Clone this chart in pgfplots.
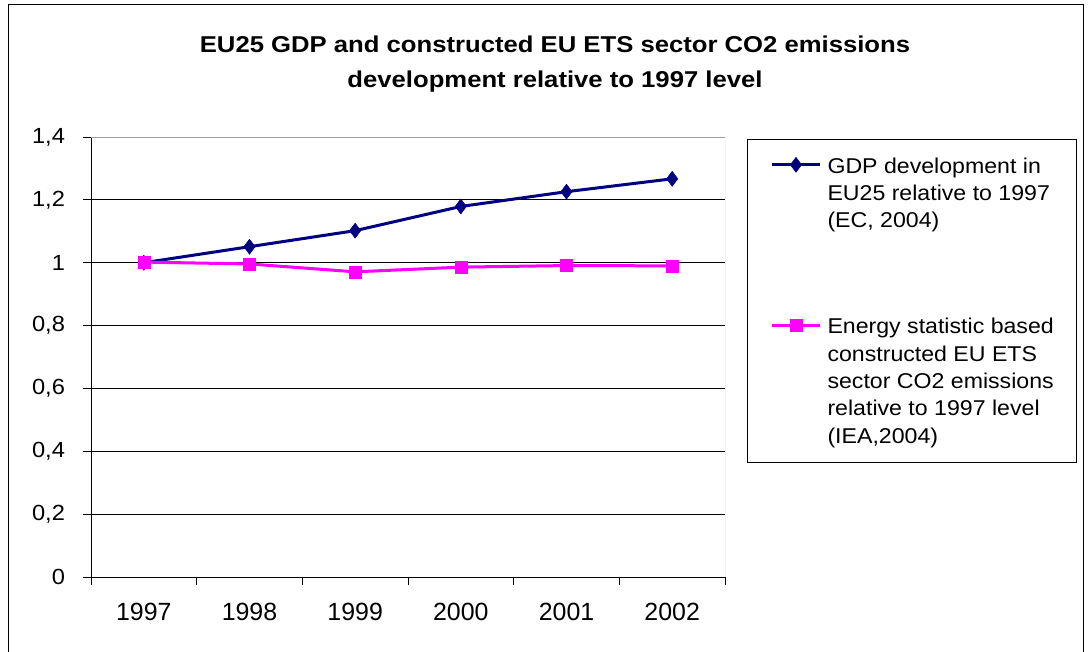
\documentclass[border=0pt]{standalone}
\usepackage{pgfplots}
\pgfplotsset{compat=1.18}
\usepackage{fontspec}
\setmainfont{Liberation Sans}
\newfontfamily\titlefont[FakeStretch=1.12]{Liberation Sans}
\newfontfamily\textfontw[FakeStretch=1.08]{Liberation Sans}
\definecolor{gdpblue}{HTML}{000080}
\definecolor{co2pink}{HTML}{FF00FF}
\definecolor{framegray}{HTML}{A0A0A0}
% legend sample raised to the first line of a multi-line entry
\pgfplotsset{
  sample at/.style={legend image code/.code={
    \draw[mark repeat=2, mark phase=2, ##1]
      plot coordinates {(0bp,#1) (24bp,#1) (48bp,#1)};
  }},
}

\begin{document}
\begin{tikzpicture}[x=1bp,y=1bp]
\useasboundingbox (0,0) rectangle (1090,-652);
% chart area border
\draw[black, line width=1bp] (8,-5) rectangle (1083,-700);
% title
\node[font=\titlefont\bfseries\fontsize{23}{35}\selectfont, align=center] at (555,-64.5)
  {EU25 GDP and constructed EU ETS sector CO2 emissions\\development relative to 1997 level};
\begin{axis}[
  at={(91bp,-577bp)}, anchor=south west,
  scale only axis, width=634bp, height=440bp,
  xmin=-0.5, xmax=5.5, ymin=0, ymax=1.4,
  xtick={-0.5,0.5,1.5,2.5,3.5,4.5,5.5},
  xticklabels={1997,1998,1999,2000,2001,2002},
  x tick label as interval,
  ytick={0,0.2,0.4,0.6,0.8,1,1.2,1.4},
  axis x line*=bottom, axis y line*=left,
  axis line style={black, line width=1bp},
  tick align=outside, major tick length=8bp,
  every tick/.style={black, line width=0.8bp},
  ymajorgrids, grid style={black, line width=0.8bp},
  /pgf/number format/assume math mode=true,
  xticklabel style={font=\fontsize{25}{30}\selectfont, anchor=base, yshift=-35bp},
  yticklabel style={font=\textfontw\fontsize{22}{26}\selectfont, xshift=-14.5bp,
    /pgf/number format/.cd, fixed, use comma, precision=1},
  legend style={
    at={(1.0347,0.9955)}, anchor=north west,
    draw=black, line width=1bp,
    font=\textfontw\fontsize{21.5}{27.5}\selectfont,
    inner xsep=23bp, inner ysep=16bp,
    row sep=85bp, column sep=6bp,
    cells={anchor=base west, align=left},
    nodes={inner xsep=0bp},
  },
]
\addplot[gdpblue, line width=3bp, mark=diamond*, mark size=7.5bp,
  mark options={solid, fill=gdpblue, draw=gdpblue, line width=0.5bp},
  sample at=63bp]
  coordinates {(0,1.000) (1,1.051) (2,1.102) (3,1.179) (4,1.226) (5,1.267)};
\addlegendentry{GDP development in\\EU25 relative to 1997\\(EC, 2004)}
\addplot[co2pink, line width=3bp, mark=square*, mark size=6bp,
  mark options={solid, fill=co2pink, draw=co2pink, line width=0.5bp},
  sample at=118bp]
  coordinates {(0,1.002) (1,0.996) (2,0.971) (3,0.986) (4,0.991) (5,0.990)};
\addlegendentry{Energy statistic based\\constructed EU ETS\\sector CO2 emissions\\relative to 1997 level\\(IEA,2004)}
\draw[framegray, line width=1bp] (rel axis cs:0,1) -- (rel axis cs:1,1) -- (rel axis cs:1,0);
\end{axis}
\end{tikzpicture}
\end{document}
